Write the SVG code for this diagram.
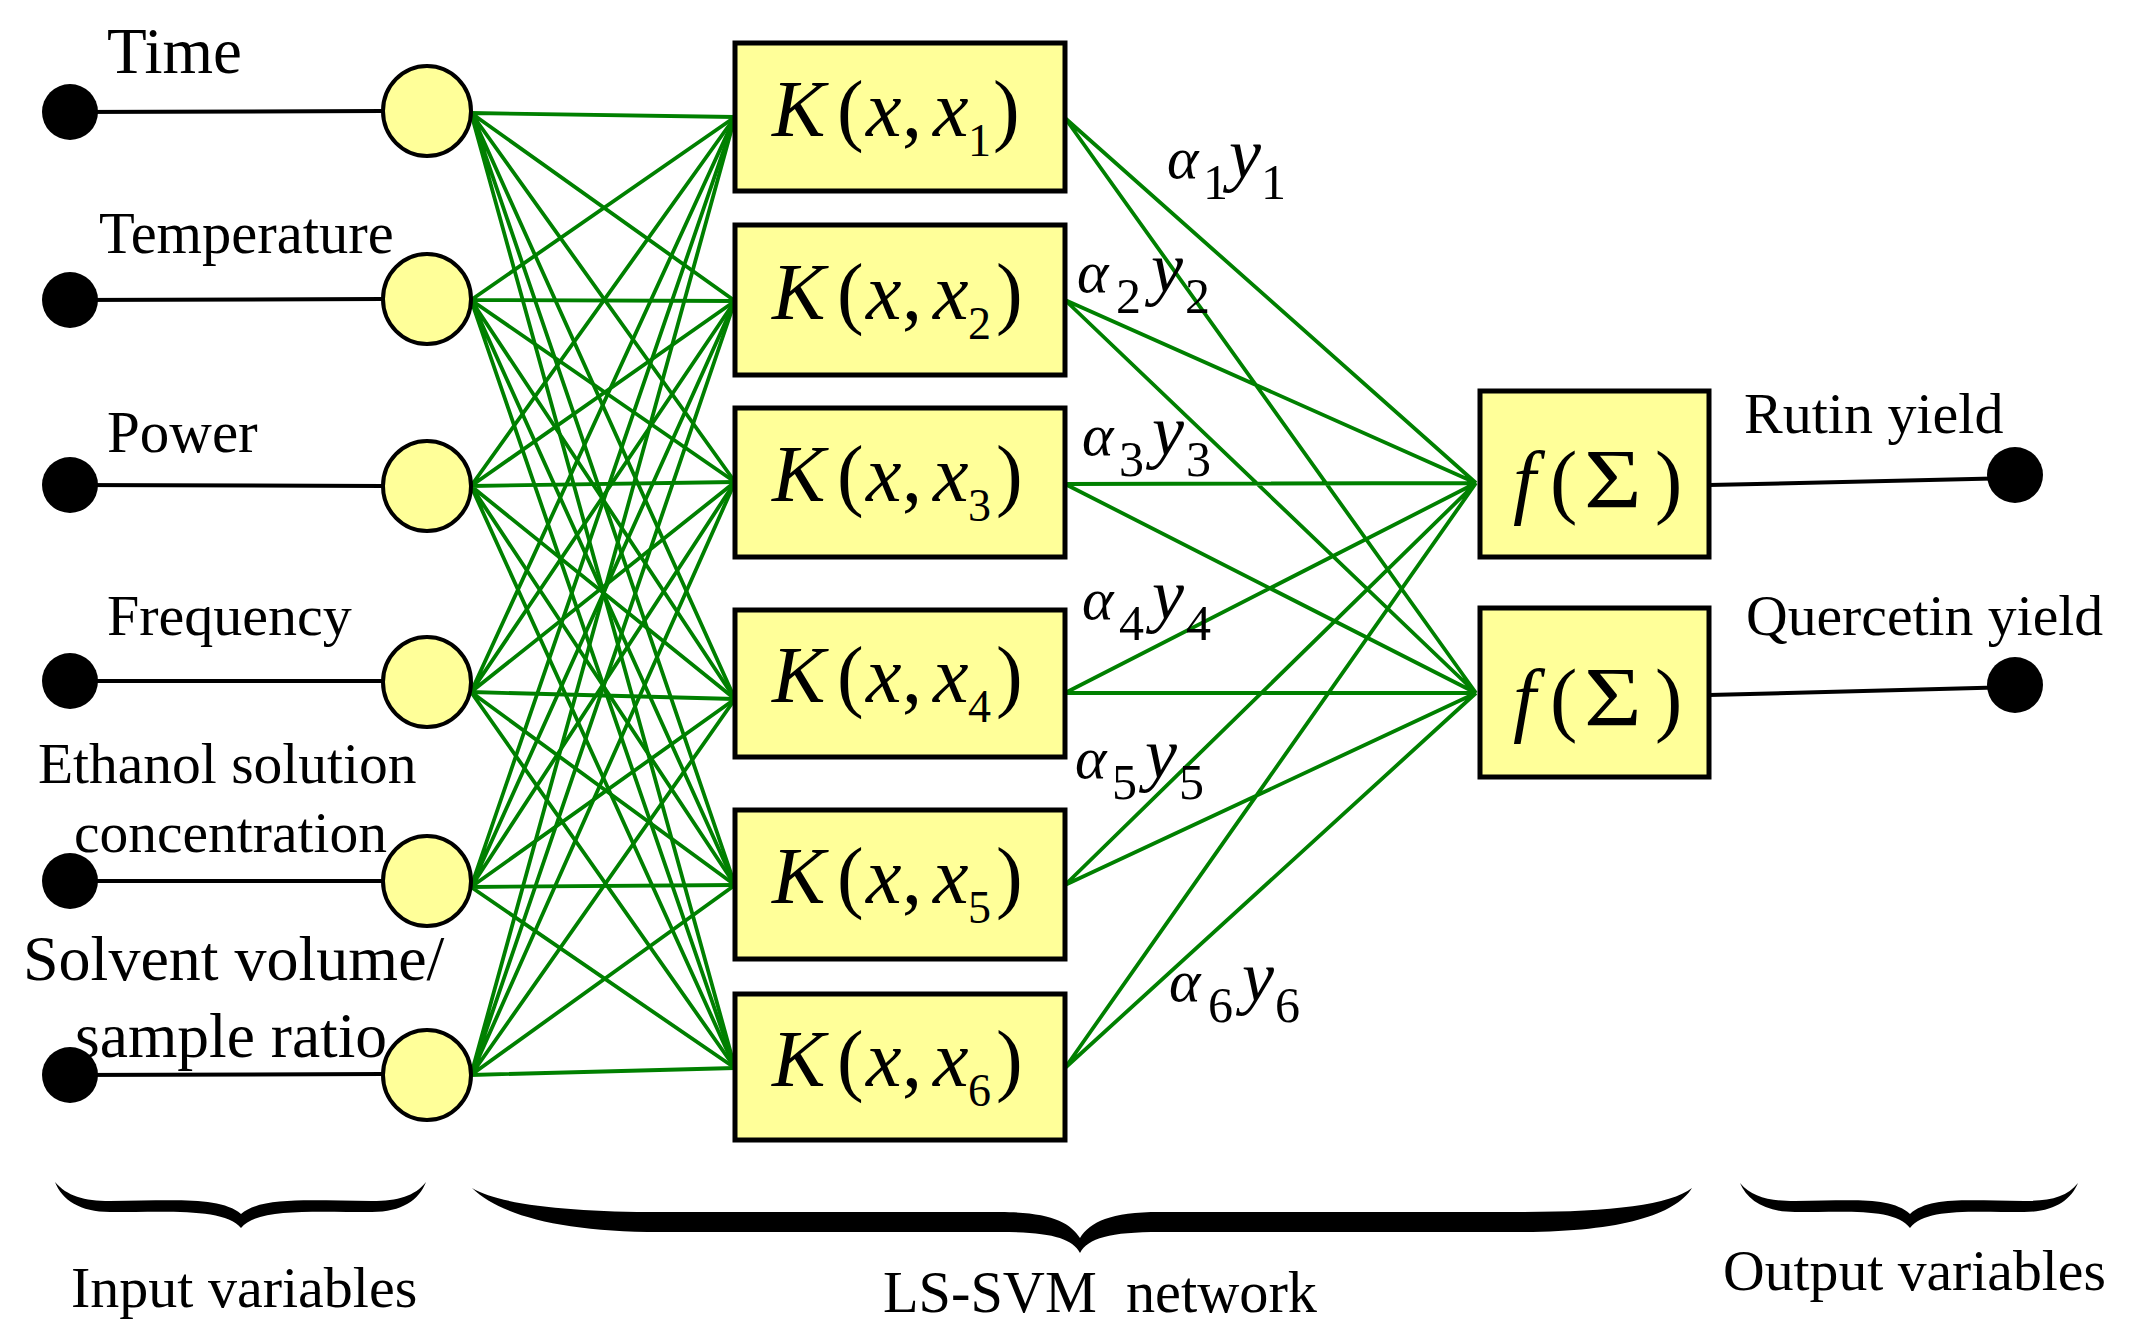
<svg xmlns="http://www.w3.org/2000/svg" width="2133" height="1344" viewBox="0 0 2133 1344">
<style>
text{font-family:"Liberation Serif","Times New Roman",serif;fill:#000}
.it{font-style:italic}
.box{fill:#FFFF99;stroke:#000;stroke-width:5}
.circ{fill:#FFFF99;stroke:#000;stroke-width:4}
.dot{fill:#000}
.wire{stroke:#000;stroke-width:4;fill:none}
.syn{stroke:#008000;stroke-width:3.8;fill:none}
.brace{fill:#000}
.k{font-size:80px}
.sub{font-size:46px}
.al{font-size:60px}
.ay{font-size:72px}
.as{font-size:50px}
.sig{font-size:84px}
</style>
<rect width="2133" height="1344" fill="#fff"/>
<g id="connectors">
<line class="wire" x1="70" y1="112" x2="383" y2="111"/>
<line class="wire" x1="70" y1="300" x2="383" y2="299"/>
<line class="wire" x1="70" y1="485" x2="383" y2="486"/>
<line class="wire" x1="70" y1="681" x2="383" y2="681"/>
<line class="wire" x1="70" y1="881" x2="383" y2="881"/>
<line class="wire" x1="70" y1="1075" x2="383" y2="1074"/>
<line class="wire" x1="1709" y1="485" x2="2015" y2="478"/>
<line class="wire" x1="1709" y1="695" x2="2015" y2="687"/>
<path class="syn" d="M471,113L735,117M471,113L735,301M471,113L735,482M471,113L735,699M471,113L735,885M471,113L735,1068"/>
<path class="syn" d="M471,300L735,117M471,300L735,301M471,300L735,482M471,300L735,699M471,300L735,885M471,300L735,1068"/>
<path class="syn" d="M471,486L735,117M471,486L735,301M471,486L735,482M471,486L735,699M471,486L735,885M471,486L735,1068"/>
<path class="syn" d="M471,692L735,117M471,692L735,301M471,692L735,482M471,692L735,699M471,692L735,885M471,692L735,1068"/>
<path class="syn" d="M471,887L735,117M471,887L735,301M471,887L735,482M471,887L735,699M471,887L735,885M471,887L735,1068"/>
<path class="syn" d="M471,1075L735,117M471,1075L735,301M471,1075L735,482M471,1075L735,699M471,1075L735,885M471,1075L735,1068"/>
<path class="syn" d="M1065,118L1476,483M1065,118L1476,693M1065,300L1476,483M1065,300L1476,693M1065,484L1476,483M1065,484L1476,693M1065,693L1476,483M1065,693L1476,693M1065,885L1476,483M1065,885L1476,693M1065,1068L1476,483M1065,1068L1476,693"/>
</g>
<g id="input-dots">
<circle class="dot" cx="70" cy="112" r="28"/>
<circle class="dot" cx="70" cy="300" r="28"/>
<circle class="dot" cx="70" cy="485" r="28"/>
<circle class="dot" cx="70" cy="681" r="28"/>
<circle class="dot" cx="70" cy="881" r="28"/>
<circle class="dot" cx="70" cy="1075" r="28"/>
</g>
<g id="in1"><ellipse class="circ" cx="427" cy="111" rx="44" ry="45"/><text x="107" y="73" font-size="65">Time</text></g>
<g id="in2"><ellipse class="circ" cx="427" cy="299" rx="44" ry="45"/><text x="99" y="253" font-size="58.5">Temperature</text></g>
<g id="in3"><ellipse class="circ" cx="427" cy="486" rx="44" ry="45"/><text x="107" y="452" font-size="59">Power</text></g>
<g id="in4"><ellipse class="circ" cx="427" cy="682" rx="44" ry="45"/><text x="107" y="635" font-size="58">Frequency</text></g>
<g id="in5"><ellipse class="circ" cx="427" cy="881" rx="44" ry="45"/><text x="38" y="783" font-size="57.5">Ethanol solution</text><text x="74" y="852" font-size="57.5">concentration</text></g>
<g id="in6"><ellipse class="circ" cx="427" cy="1075" rx="44" ry="45"/><text x="23" y="980" font-size="64">Solvent volume/</text><text x="75" y="1057" font-size="63.5">sample ratio</text></g>
<g id="k1"><rect class="box" x="735" y="43" width="330" height="148"/><text class="k" y="136"><tspan class="it" x="772">K</tspan><tspan x="837">(</tspan><tspan class="it" x="866">x</tspan><tspan x="902">,</tspan><tspan class="it" x="933">x</tspan><tspan class="sub" x="968" dy="20">1</tspan><tspan x="993" dy="-20">)</tspan></text></g>
<g id="k2"><rect class="box" x="735" y="225" width="330" height="150"/><text class="k" y="319"><tspan class="it" x="772">K</tspan><tspan x="837">(</tspan><tspan class="it" x="866">x</tspan><tspan x="902">,</tspan><tspan class="it" x="933">x</tspan><tspan class="sub" x="968" dy="20">2</tspan><tspan x="996" dy="-20">)</tspan></text></g>
<g id="k3"><rect class="box" x="735" y="408" width="330" height="149"/><text class="k" y="501"><tspan class="it" x="772">K</tspan><tspan x="837">(</tspan><tspan class="it" x="866">x</tspan><tspan x="902">,</tspan><tspan class="it" x="933">x</tspan><tspan class="sub" x="968" dy="20">3</tspan><tspan x="996" dy="-20">)</tspan></text></g>
<g id="k4"><rect class="box" x="735" y="610" width="330" height="147"/><text class="k" y="702"><tspan class="it" x="772">K</tspan><tspan x="837">(</tspan><tspan class="it" x="866">x</tspan><tspan x="902">,</tspan><tspan class="it" x="933">x</tspan><tspan class="sub" x="968" dy="20">4</tspan><tspan x="996" dy="-20">)</tspan></text></g>
<g id="k5"><rect class="box" x="735" y="810" width="330" height="149"/><text class="k" y="903"><tspan class="it" x="772">K</tspan><tspan x="837">(</tspan><tspan class="it" x="866">x</tspan><tspan x="902">,</tspan><tspan class="it" x="933">x</tspan><tspan class="sub" x="968" dy="20">5</tspan><tspan x="996" dy="-20">)</tspan></text></g>
<g id="k6"><rect class="box" x="735" y="994" width="330" height="146"/><text class="k" y="1086"><tspan class="it" x="772">K</tspan><tspan x="837">(</tspan><tspan class="it" x="866">x</tspan><tspan x="902">,</tspan><tspan class="it" x="933">x</tspan><tspan class="sub" x="968" dy="20">6</tspan><tspan x="996" dy="-20">)</tspan></text></g>
<g id="weights">
<text y="178"><tspan class="al it" x="1167">α</tspan><tspan class="as" x="1203" dy="21">1</tspan><tspan class="ay it" x="1229" dy="-21">y</tspan><tspan class="as" x="1261" dy="21">1</tspan></text>
<text y="292"><tspan class="al it" x="1077">α</tspan><tspan class="as" x="1116" dy="21">2</tspan><tspan class="ay it" x="1151" dy="-21">y</tspan><tspan class="as" x="1185" dy="21">2</tspan></text>
<text y="455"><tspan class="al it" x="1082">α</tspan><tspan class="as" x="1119" dy="21">3</tspan><tspan class="ay it" x="1152" dy="-21">y</tspan><tspan class="as" x="1186" dy="21">3</tspan></text>
<text y="619"><tspan class="al it" x="1082">α</tspan><tspan class="as" x="1119" dy="21">4</tspan><tspan class="ay it" x="1152" dy="-21">y</tspan><tspan class="as" x="1186" dy="21">4</tspan></text>
<text y="778"><tspan class="al it" x="1075">α</tspan><tspan class="as" x="1112" dy="21">5</tspan><tspan class="ay it" x="1145" dy="-21">y</tspan><tspan class="as" x="1179" dy="21">5</tspan></text>
<text y="1001"><tspan class="al it" x="1169">α</tspan><tspan class="as" x="1208" dy="21">6</tspan><tspan class="ay it" x="1242" dy="-21">y</tspan><tspan class="as" x="1275" dy="21">6</tspan></text>
</g>
<g id="f1"><rect class="box" x="1480" y="391" width="229" height="166"/><text y="508" font-size="82"><tspan class="it" x="1513">f</tspan><tspan x="1550">(</tspan><tspan x="1655">)</tspan></text><text class="sig" transform="translate(1584,508) scale(1.18,1)">Σ</text></g>
<g id="f2"><rect class="box" x="1480" y="608" width="229" height="169"/><text y="726" font-size="82"><tspan class="it" x="1513">f</tspan><tspan x="1550">(</tspan><tspan x="1655">)</tspan></text><text class="sig" transform="translate(1584,726) scale(1.18,1)">Σ</text></g>
<g id="out1"><circle class="dot" cx="2015" cy="475" r="28"/><text x="1744" y="433" font-size="58">Rutin yield</text></g>
<g id="out2"><circle class="dot" cx="2015" cy="685" r="28"/><text x="1746" y="635" font-size="57.7">Quercetin yield</text></g>
<g id="brace-input">
<path class="brace" d="M55,1182 C62,1200 80,1212 110,1212 C170,1212 225,1208 241,1228 C257,1208 312,1212 372,1212 C402,1212 419,1200 426,1182 C415,1196 398,1201 372,1201 C312,1201 262,1196 241,1214 C220,1196 170,1201 110,1201 C84,1201 67,1196 55,1182 Z"/>
<text x="71" y="1307" font-size="58">Input variables</text>
</g>
<g id="brace-network">
<path class="brace" d="M472,1188 C500,1215 560,1232 660,1232 L1000,1232 C1050,1232 1072,1238 1080,1253 C1088,1238 1110,1232 1160,1232 L1520,1232 C1620,1232 1675,1215 1692,1188 C1670,1205 1610,1212 1520,1212 L1160,1212 C1110,1212 1090,1222 1080,1238 C1070,1222 1050,1212 1000,1212 L660,1212 C570,1212 500,1205 472,1188 Z"/>
<text x="883" y="1312" font-size="58.3" xml:space="preserve">LS-SVM  network</text>
</g>
<g id="brace-output">
<path class="brace" d="M1740,1183 C1747,1200 1765,1212 1795,1212 C1850,1212 1895,1208 1910,1228 C1925,1208 1970,1212 2024,1212 C2054,1212 2071,1200 2078,1183 C2067,1197 2050,1201 2024,1201 C1970,1201 1930,1196 1910,1214 C1890,1196 1850,1201 1795,1201 C1769,1201 1752,1197 1740,1183 Z"/>
<text x="1723" y="1290" font-size="57.7">Output variables</text>
</g>
</svg>
